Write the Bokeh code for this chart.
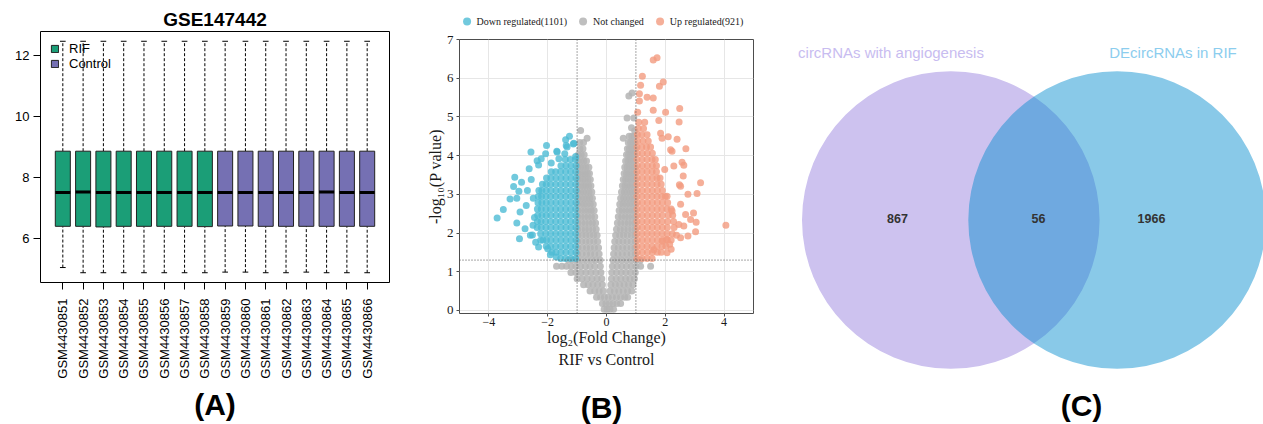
import math
from bokeh.plotting import figure
from bokeh.models import (Range1d, FixedTicker, Legend, LegendItem, Span, Title,
                          ColumnDataSource)
from bokeh.layouts import row, column
from bokeh.embed import file_html
from bokeh.resources import INLINE
from bokeh.core.properties import value

# ---------------- Panel A: boxplot data ----------------
samples = ["GSM4430851", "GSM4430852", "GSM4430853", "GSM4430854",
           "GSM4430855", "GSM4430856", "GSM4430857", "GSM4430858",
           "GSM4430859", "GSM4430860", "GSM4430861", "GSM4430862",
           "GSM4430863", "GSM4430864", "GSM4430865", "GSM4430866"]
groups = ["RIF"] * 8 + ["Control"] * 8
box_q1 = [6.40, 6.40, 6.38, 6.40, 6.40, 6.40, 6.40, 6.39,
          6.41, 6.41, 6.40, 6.40, 6.40, 6.40, 6.40, 6.40]
box_med = [7.51, 7.52, 7.51, 7.51, 7.51, 7.51, 7.51, 7.51,
           7.51, 7.51, 7.51, 7.51, 7.51, 7.52, 7.51, 7.51]
box_q3 = [8.86, 8.86, 8.86, 8.86, 8.86, 8.86, 8.86, 8.86,
          8.86, 8.86, 8.86, 8.86, 8.86, 8.86, 8.86, 8.86]
whisk_lo = [5.05, 4.88, 4.88, 4.88, 4.88, 4.88, 4.88, 4.88,
            4.90, 4.90, 4.88, 4.88, 4.90, 4.88, 4.88, 4.88]
whisk_hi = [12.46, 12.46, 12.46, 12.46, 12.46, 12.46, 12.46, 12.46,
            12.46, 12.46, 12.46, 12.46, 12.46, 12.46, 12.46, 12.46]
group_colors = {"RIF": "#1B9E77", "Control": "#7570B3"}
y_ticks_a = [6, 8, 10, 12]

# ---------------- Panel B: volcano data ----------------
ns_row_y = [0.03, 0.18, 0.34, 0.50, 0.66, 0.82, 0.98, 1.14, 1.30, 1.46, 1.62,
            1.78, 1.94, 2.10, 2.26, 2.42, 2.58, 2.74, 2.90, 3.06, 3.22, 3.38,
            3.54, 3.70, 3.86, 4.02, 4.18, 4.34, 4.50]
ns_row_x = [
    [-0.08, 0.02, 0.12, 0.24],
    [-0.14, -0.02, 0.10, 0.22, 0.35, 0.48],
    [-0.34, -0.20, -0.07, 0.06, 0.20, 0.34, 0.48, 0.62, 0.72],
    [-0.56, -0.40, -0.25, -0.11, 0.12, 0.27, 0.42, 0.57, 0.72, 0.86],
    [-0.78, -0.62, -0.46, -0.30, -0.14, 0.15, 0.30, 0.45, 0.60, 0.75, 0.90],
    [-1.00, -0.83, -0.66, -0.49, -0.32, -0.16, 0.17, 0.33, 0.49, 0.65, 0.80, 0.95],
    [-1.21, -1.04, -0.87, -0.70, -0.53, -0.36, -0.19, 0.18, 0.34, 0.50, 0.66, 0.82, 0.98],
    [-1.70, -1.52, -1.36, -1.20, -1.04, -0.88, -0.72, -0.56, -0.40, -0.21,
     0.20, 0.36, 0.52, 0.68, 0.84, 1.00, 1.16, 1.50],
    [-1.30, -1.14, -0.98, -0.82, -0.66, -0.50, -0.36, -0.22,
     0.22, 0.37, 0.52, 0.68, 0.84, 1.00, 1.15],
    [-0.98, -0.83, -0.68, -0.54, -0.40, -0.25, 0.24, 0.39, 0.54, 0.69, 0.84, 0.98],
    [-0.97, -0.82, -0.68, -0.55, -0.41, -0.27, 0.26, 0.40, 0.55, 0.69, 0.84, 0.97],
    [-0.98, -0.84, -0.70, -0.57, -0.43, -0.30, 0.28, 0.42, 0.56, 0.70, 0.84, 0.98],
    [-0.97, -0.83, -0.70, -0.57, -0.44, -0.32, 0.31, 0.45, 0.58, 0.71, 0.85, 0.97],
    [-0.98, -0.85, -0.72, -0.60, -0.47, -0.35, 0.34, 0.47, 0.60, 0.73, 0.86, 0.98],
    [-0.97, -0.84, -0.72, -0.60, -0.48, -0.37, 0.37, 0.49, 0.62, 0.74, 0.86, 0.97],
    [-0.98, -0.86, -0.74, -0.63, -0.51, -0.40, 0.40, 0.52, 0.64, 0.75, 0.87, 0.98],
    [-0.97, -0.85, -0.74, -0.63, -0.52, -0.42, 0.43, 0.54, 0.65, 0.76, 0.87, 0.97],
    [-0.98, -0.87, -0.76, -0.66, -0.55, -0.45, 0.45, 0.56, 0.67, 0.78, 0.88, 0.98],
    [-0.97, -0.86, -0.76, -0.66, -0.57, -0.48, 0.48, 0.58, 0.68, 0.78, 0.88, 0.97],
    [-0.98, -0.88, -0.78, -0.69, -0.59, -0.50, 0.51, 0.61, 0.70, 0.80, 0.89, 0.98],
    [-0.97, -0.87, -0.78, -0.70, -0.61, -0.53, 0.54, 0.63, 0.72, 0.80, 0.89, 0.97],
    [-0.98, -0.89, -0.80, -0.72, -0.63, -0.55, 0.57, 0.65, 0.74, 0.82, 0.90, 0.98],
    [-0.97, -0.88, -0.80, -0.72, -0.65, -0.58, 0.60, 0.68, 0.76, 0.83, 0.91, 0.97],
    [-0.98, -0.89, -0.80, -0.70, -0.60, 0.62, 0.70, 0.78, 0.86, 0.93, 0.98],
    [-0.97, -0.87, -0.77, -0.68, 0.65, 0.73, 0.80, 0.87, 0.94],
    [-0.96, -0.86, -0.76, 0.68, 0.75, 0.82, 0.89, 0.96],
    [-0.90, -0.80, 0.71, 0.78, 0.85, 0.92, 0.98],
    [-0.91, -0.78, 0.74, 0.82, 0.90, 0.97],
    [0.77, 0.86, 0.95],
]
ns_extra_x = [-0.88, -0.66, 0.87, 0.76, 0.70, 0.93, 0.57, 0.85, 0.96]
ns_extra_y = [4.65, 4.45, 5.62, 5.54, 4.97, 4.97, 4.45, 4.72, 4.64]

down_row_y = [1.34, 1.50, 1.66, 1.82, 1.98, 2.14, 2.30, 2.46, 2.62, 2.78,
              2.94, 3.10, 3.26, 3.42, 3.58, 3.74, 3.90]
down_row_x = [
    [-1.05, -1.22, -1.40, -1.56],
    [-1.04, -1.21, -1.38, -1.55, -1.72, -1.86],
    [-1.05, -1.22, -1.39, -1.56, -1.73, -1.90, -2.05],
    [-1.04, -1.21, -1.38, -1.55, -1.72, -1.89, -2.04, -2.16],
    [-1.05, -1.22, -1.39, -1.56, -1.73, -1.90, -2.07, -2.24],
    [-1.04, -1.21, -1.38, -1.55, -1.72, -1.89, -2.06, -2.22, -2.36],
    [-1.05, -1.22, -1.39, -1.56, -1.73, -1.90, -2.07, -2.23, -2.35],
    [-1.04, -1.21, -1.38, -1.55, -1.72, -1.89, -2.05, -2.20, -2.34],
    [-1.05, -1.22, -1.39, -1.56, -1.73, -1.90, -2.06, -2.22, -2.35],
    [-1.04, -1.21, -1.38, -1.55, -1.72, -1.89, -2.05, -2.20, -2.33],
    [-1.05, -1.22, -1.39, -1.56, -1.73, -1.90, -2.06, -2.21, -2.32],
    [-1.04, -1.21, -1.38, -1.55, -1.72, -1.89, -2.05, -2.20, -2.30],
    [-1.05, -1.22, -1.39, -1.56, -1.73, -1.90, -2.05, -2.18],
    [-1.04, -1.21, -1.38, -1.55, -1.72, -1.89, -2.04],
    [-1.05, -1.22, -1.39, -1.56, -1.73, -1.88],
    [-1.04, -1.21, -1.38, -1.55],
    [-1.06, -1.23, -1.40],
]
down_extra_x = [-3.72, -3.51, -3.28, -3.05, -3.16, -2.89, -2.98, -2.94, -3.05,
                -2.96, -2.77, -2.73, -2.69, -2.57, -2.63, -2.56, -2.31, -2.04,
                -2.07, -2.22, -1.88, -1.69, -1.62, -1.39, -1.26, -1.37, -1.11,
                -1.42, -2.49, -2.45, -2.50, -2.52, -2.31, -2.24, -1.91, -2.00,
                -1.71, -1.13, -1.68, -1.34, -1.05, -3.12, -2.36, -2.59, -2.41]
down_extra_y = [2.39, 2.61, 2.88, 2.90, 3.20, 3.31, 3.08, 2.54, 2.26,
                1.85, 2.11, 2.71, 3.10, 4.09, 3.66, 3.38, 3.76, 4.26,
                4.05, 3.92, 3.81, 4.11, 3.92, 4.41, 4.50, 4.26, 4.32,
                4.05, 2.90, 2.40, 2.20, 1.95, 1.64, 1.81, 1.44, 1.59,
                1.38, 4.30, 4.09, 4.22, 3.98, 3.44, 3.87, 1.94, 1.76]

up_row_y = [1.34, 1.50, 1.66, 1.82, 1.98, 2.14, 2.30, 2.46, 2.62, 2.78, 2.94,
            3.10, 3.26, 3.42, 3.58, 3.74, 3.90, 4.06, 4.22, 4.38, 4.54, 4.70, 4.86]
up_row_x = [
    [1.04, 1.21, 1.38, 1.55],
    [1.05, 1.22, 1.39, 1.56, 1.73, 1.86],
    [1.04, 1.21, 1.38, 1.55, 1.72, 1.89, 2.02],
    [1.05, 1.22, 1.39, 1.56, 1.73, 1.90, 2.07, 2.20],
    [1.04, 1.21, 1.38, 1.55, 1.72, 1.89, 2.06, 2.24],
    [1.05, 1.22, 1.39, 1.56, 1.73, 1.90, 2.07, 2.30],
    [1.04, 1.21, 1.38, 1.55, 1.72, 1.89, 2.08, 2.28],
    [1.05, 1.22, 1.39, 1.56, 1.73, 1.90, 2.10, 2.25],
    [1.04, 1.21, 1.38, 1.55, 1.72, 1.88, 2.05, 2.20],
    [1.05, 1.22, 1.39, 1.56, 1.73, 1.90, 2.08],
    [1.04, 1.21, 1.38, 1.55, 1.72, 1.88, 2.00],
    [1.05, 1.22, 1.39, 1.56, 1.73, 1.90],
    [1.04, 1.21, 1.38, 1.55, 1.72, 1.86],
    [1.05, 1.22, 1.39, 1.56, 1.72, 1.82],
    [1.04, 1.21, 1.38, 1.55, 1.70],
    [1.05, 1.22, 1.39, 1.56, 1.70],
    [1.04, 1.21, 1.38, 1.55, 1.66],
    [1.05, 1.22, 1.39, 1.56],
    [1.04, 1.20, 1.36, 1.50],
    [1.06, 1.24, 1.42],
    [1.05, 1.20, 1.38],
    [1.08, 1.26],
    [1.10, 1.30],
]
up_extra_x = [1.59, 1.72, 1.22, 1.16, 1.93, 1.80, 1.12, 1.12, 1.38, 1.59, 2.01,
              2.49, 2.47, 1.59, 1.06, 1.78, 2.10, 2.40, 2.70, 2.23, 2.57, 2.63,
              2.61, 2.48, 3.20, 3.08, 2.77, 3.05, 2.96, 2.86, 2.77, 3.03, 2.38,
              2.20, 4.06, 2.52, 2.69, 2.04, 1.84, 1.89, 2.18, 1.98, 2.29, 2.52,
              2.06, 2.23, 2.46, 2.63, 2.52, 2.15, 1.89, 2.06, 1.61]
up_extra_y = [6.47, 6.53, 6.05, 5.82, 5.90, 5.79, 5.60, 5.41, 5.51, 5.49, 5.12,
              5.22, 4.87, 5.17, 5.12, 4.91, 4.49, 4.42, 4.18, 4.11, 3.83, 3.75,
              3.47, 3.25, 3.30, 3.02, 3.00, 2.28, 2.52, 2.35, 1.92, 2.03, 1.94,
              1.58, 2.20, 2.74, 2.48, 1.83, 4.58, 4.45, 4.15, 3.64, 3.73, 3.21,
              2.95, 2.57, 2.22, 2.18, 1.88, 1.71, 1.79, 1.49, 1.57]

n_down, n_up = 1101, 921
fc_cut = 1.0
p_cut = 1.3
x_ticks_b = [-4, -2, 0, 2, 4]
y_ticks_b = [0, 1, 2, 3, 4, 5, 6, 7]
col_down, col_ns, col_up = "#4DBBD5", "#B4B4B4", "#F39B7F"

# ---------------- Panel C: Venn data ----------------
venn_sets = ["circRNAs with angiogenesis", "DEcircRNAs in RIF"]
venn_counts = [867, 56, 1966]   # only left, both, only right


def flatten(row_y, row_x):
    xs, ys = [], []
    for yv, rx in zip(row_y, row_x):
        for xv in rx:
            xs.append(xv)
            ys.append(yv)
    return xs, ys


def bare(p):
    p.frame_align = False
    p.grid.visible = False
    p.outline_line_color = None
    p.background_fill_color = "white"
    p.border_fill_color = "white"
    if p.title is not None:
        p.title.visible = False


# =============== Panel A ===============
pa = figure(width=420, height=424, x_range=Range1d(-0.1, 17.1),
            y_range=Range1d(4.56, 12.78), output_backend="svg",
            toolbar_location=None, min_border_left=40, min_border_right=31,
            min_border_top=31, min_border_bottom=142, title="GSE147442")
pa.frame_align = False
pa.xgrid.visible = False
pa.ygrid.visible = False
pa.outline_line_color = "black"
pa.outline_line_alpha = 1
pa.outline_line_width = 1
pa.background_fill_color = "white"
pa.border_fill_color = "white"
pa.title.align = "center"
pa.title.text_font = "Liberation Sans"
pa.title.text_font_size = "19px"
pa.title.text_font_style = "bold"
pa.title.text_color = "black"
pa.title.standoff = 4

xs_a = list(range(1, len(samples) + 1))
src_a = ColumnDataSource(dict(
    x=xs_a,
    left=[i - 0.37 for i in xs_a], right=[i + 0.37 for i in xs_a],
    capl=[i - 0.14 for i in xs_a], capr=[i + 0.14 for i in xs_a],
    q1=box_q1, med=box_med, q3=box_q3, lo=whisk_lo, hi=whisk_hi,
    color=[group_colors[g] for g in groups],
))
pa.segment(x0="x", y0="q3", x1="x", y1="hi", source=src_a, line_color="black",
           line_dash="3 2", line_width=1)
pa.segment(x0="x", y0="lo", x1="x", y1="q1", source=src_a, line_color="black",
           line_dash="3 2", line_width=1)
pa.segment(x0="capl", y0="hi", x1="capr", y1="hi", source=src_a, line_color="black", line_width=1)
pa.segment(x0="capl", y0="lo", x1="capr", y1="lo", source=src_a, line_color="black", line_width=1)
boxes = pa.quad(left="left", right="right", bottom="q1", top="q3", source=src_a,
                fill_color="color", line_color="#222222", line_width=1)
pa.segment(x0="left", y0="med", x1="right", y1="med", source=src_a,
           line_color="black", line_width=3)

pa.yaxis.ticker = FixedTicker(ticks=y_ticks_a)
pa.yaxis.axis_line_color = None
pa.yaxis.major_tick_out = 7
pa.yaxis.major_tick_in = 0
pa.yaxis.minor_tick_line_color = None
pa.yaxis.major_tick_line_color = "black"
pa.yaxis.major_label_text_font = "Liberation Sans"
pa.yaxis.major_label_text_font_size = "13px"
pa.yaxis.major_label_text_color = "black"
pa.yaxis.major_label_standoff = 4

pa.xaxis.ticker = FixedTicker(ticks=xs_a)
pa.xaxis.major_label_overrides = {i: s for i, s in zip(xs_a, samples)}
pa.xaxis.major_label_orientation = math.pi / 2
pa.xaxis.axis_line_color = None
pa.xaxis.major_tick_out = 7
pa.xaxis.major_tick_in = 0
pa.xaxis.minor_tick_line_color = None
pa.xaxis.major_tick_line_color = "black"
pa.xaxis.major_label_text_font = "Liberation Sans"
pa.xaxis.major_label_text_font_size = "13px"
pa.xaxis.major_label_text_color = "black"
pa.xaxis.major_label_standoff = 9
pa.xaxis.axis_label = "(A)"
pa.xaxis.axis_label_text_font = "Liberation Sans"
pa.xaxis.axis_label_text_font_style = "bold"
pa.xaxis.axis_label_text_font_size = "30px"
pa.xaxis.axis_label_text_color = "black"
pa.xaxis.axis_label_standoff = 6

legend_a = Legend(items=[LegendItem(label="RIF", renderers=[boxes], index=0),
                         LegendItem(label="Control", renderers=[boxes], index=8)],
                  location="top_left", margin=0, padding=10, spacing=0,
                  glyph_width=9, glyph_height=9, label_standoff=10,
                  label_text_font="Liberation Sans", label_text_font_size="13px",
                  label_text_color="black",
                  label_height=13, background_fill_alpha=0, border_line_alpha=0)
pa.add_layout(legend_a)

# =============== Panel B: data ===============
ns_x, ns_y = flatten(ns_row_y, ns_row_x)
ns_x += ns_extra_x
ns_y += ns_extra_y
dn_x, dn_y = flatten(down_row_y, down_row_x)
dn_x += down_extra_x
dn_y += down_extra_y
up_x, up_y = flatten(up_row_y, up_row_x)
up_x += up_extra_x
up_y += up_extra_y

# =============== Panel B: legend strip (shows no data, only the key) ===============
pl = figure(width=360, height=31, x_range=Range1d(-5, 5), y_range=Range1d(8, 9),
            output_backend="svg", toolbar_location=None, x_axis_location=None,
            y_axis_location=None, min_border=0)
bare(pl)
lg_dn = pl.scatter(dn_x, dn_y, marker="circle", size=7, fill_color=col_down,
                   fill_alpha=0.8, line_color=None)
lg_ns = pl.scatter(ns_x, ns_y, marker="circle", size=7, fill_color=col_ns,
                   fill_alpha=0.85, line_color=None)
lg_up = pl.scatter(up_x, up_y, marker="circle", size=7, fill_color=col_up,
                   fill_alpha=0.8, line_color=None)
legend_b = Legend(items=[LegendItem(label="Down regulated(%d)" % n_down, renderers=[lg_dn]),
                         LegendItem(label="Not changed", renderers=[lg_ns]),
                         LegendItem(label="Up regulated(%d)" % n_up, renderers=[lg_up])],
                  orientation="horizontal", location="bottom_center", margin=0, padding=0,
                  spacing=6, glyph_width=20, glyph_height=20, label_standoff=0,
                  label_text_font="Liberation Serif", label_text_font_size="10px",
                  label_text_color="#1A1A1A",
                  background_fill_alpha=0, border_line_alpha=0)
pl.add_layout(legend_b)

# =============== Panel B: volcano ===============
pb = figure(width=360, height=344, x_range=Range1d(-5, 5), y_range=Range1d(-0.08, 7.0),
            output_backend="svg", toolbar_location=None, min_border_left=39,
            min_border_right=27, min_border_top=8, min_border_bottom=62)
pb.frame_align = False
pb.title.visible = False
pb.background_fill_color = "white"
pb.border_fill_color = "white"
pb.grid.grid_line_color = "#E6E6E6"
pb.grid.grid_line_width = 1
pb.outline_line_color = "#4D4D4D"
pb.outline_line_alpha = 1
pb.outline_line_width = 1

pb.scatter(ns_x, ns_y, marker="circle", size=7, fill_color=col_ns,
           fill_alpha=0.85, line_color=None)
pb.scatter(dn_x, dn_y, marker="circle", size=7, fill_color=col_down,
           fill_alpha=0.8, line_color=None)
pb.scatter(up_x, up_y, marker="circle", size=7, fill_color=col_up,
           fill_alpha=0.8, line_color=None)

for loc in (-fc_cut, fc_cut):
    pb.add_layout(Span(location=loc, dimension="height", line_color="#4D4D4D",
                       line_dash="1 2", line_width=1))
pb.add_layout(Span(location=p_cut, dimension="width", line_color="#4D4D4D",
                   line_dash="1 2", line_width=1))

pb.xaxis.ticker = FixedTicker(ticks=x_ticks_b)
pb.xaxis.major_label_overrides = {t: ("\u2212" + str(-t) if t < 0 else str(t)) for t in x_ticks_b}
pb.yaxis.ticker = FixedTicker(ticks=y_ticks_b)
for ax in (pb.xaxis, pb.yaxis):
    ax.axis_line_color = None
    ax.major_tick_out = 3
    ax.major_tick_in = 0
    ax.minor_tick_line_color = None
    ax.major_tick_line_color = "#4D4D4D"
    ax.major_label_text_font = "Liberation Serif"
    ax.major_label_text_color = "#1A1A1A"
    ax.major_label_standoff = 3
    ax.axis_label_text_font = "Liberation Serif"
    ax.axis_label_text_font_style = "normal"
    ax.axis_label_text_font_size = "16px"
    ax.axis_label_text_color = "#1A1A1A"
    ax.axis_label_standoff = 0
pb.xaxis.major_label_standoff = 1
pb.xaxis.major_label_text_font_size = "12px"
pb.yaxis.major_label_text_font_size = "13px"
pb.xaxis.axis_label = "log\u2082(Fold Change)"
pb.yaxis.axis_label = "-log\u2081\u2080(P value)"

pb.add_layout(Title(text="RIF vs Control", align="center", text_font="Liberation Serif",
                    text_font_size="16px", text_font_style="normal",
                    text_color="#1A1A1A", standoff=0), "below")

# =============== Panel B: caption strip ===============
pbb = figure(width=360, height=49, x_range=Range1d(-5, 5), y_range=Range1d(0, 49),
             output_backend="svg", toolbar_location=None, x_axis_location=None,
             y_axis_location=None, min_border_left=39, min_border_right=27,
             min_border_top=0, min_border_bottom=0)
bare(pbb)
pbb.text(x=[-0.17], y=[17], text=["(B)"], text_color="black",
         text_font=value("Liberation Sans"), text_font_style="bold",
         text_font_size="30px", text_align="center", text_baseline="middle")

panel_b = column(pl, pb, pbb)

# =============== Panel C ===============
pc = figure(width=483, height=424, x_range=Range1d(780, 1263), y_range=Range1d(424, 0),
            output_backend="svg", toolbar_location=None, x_axis_location=None,
            y_axis_location=None, min_border=0)
bare(pc)

venn_r = 148.8
venn_cx = [950.3, 1116.6]
venn_cy = 219.5
pc.circle(x=[venn_cx[0]], y=[venn_cy], radius=venn_r, fill_color="#CDC2EF",
          fill_alpha=1.0, line_color=None)
pc.circle(x=[venn_cx[1]], y=[venn_cy], radius=venn_r, fill_color="#098ECF",
          fill_alpha=0.48, line_color=None)
pc.text(x=[890.5, 1172.5], y=[52, 52], text=venn_sets,
        text_color=["#C8BCF0", "#8CCDEE"], text_font=value("Liberation Sans"),
        text_font_size="15px", text_align="center", text_baseline="middle")
pc.text(x=[897, 1038, 1151], y=[218, 218, 218], text=[str(c) for c in venn_counts],
        text_color="#333333", text_font=value("Liberation Sans"), text_font_style="bold",
        text_font_size="12.5px", text_align="center", text_baseline="middle")
pc.text(x=[1081], y=[405], text=["(C)"], text_color="black",
        text_font=value("Liberation Sans"), text_font_style="bold",
        text_font_size="30px", text_align="center", text_baseline="middle")

layout = row(pa, panel_b, pc)
open("out.html", "w").write(file_html(layout, INLINE))
